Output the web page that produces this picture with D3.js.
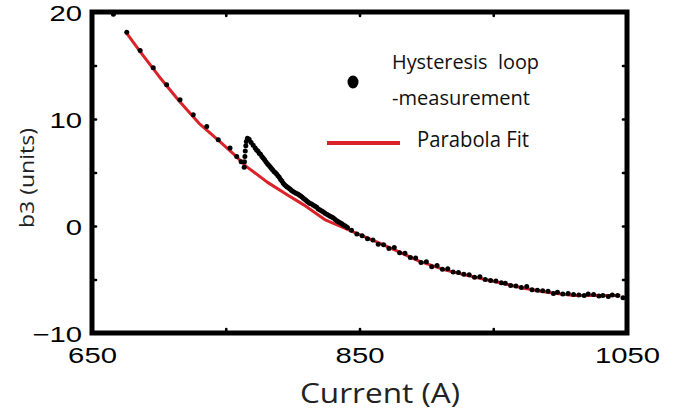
<!DOCTYPE html>
<html>
<head>
<meta charset="utf-8">
<script src="https://cdn.jsdelivr.net/npm/d3@7/dist/d3.min.js"></script>
<style>
  html, body { margin: 0; padding: 0; background: #fff; }
  svg { display: block; }
</style>
</head>
<body>
<svg id="chart" width="683" height="410"></svg>
<script>
// ---------- data ----------
const xTickLabels = [650, 850, 1050];
const yTickLabels = [-10, 0, 10, 20];
const xMinorTicks = [750, 850, 950];
const yMinorTicks = [-5, 0, 5, 10, 15];

// Parabola fit (red line)
const fitCurrent = [676, 686, 700, 715, 730, 745, 757, 765, 781, 795, 808, 824, 835, 850, 865, 880, 895, 915, 935, 955, 972, 990, 1010, 1025, 1045];
const fitB3      = [18.0, 16.3, 14.0, 11.7, 9.6, 7.95, 6.6, 5.6, 4.1, 3.0, 2.0, 0.6, 0.0, -0.8, -1.6, -2.45, -3.3, -4.15, -4.75, -5.3, -5.8, -6.2, -6.5, -6.5, -6.5];

// Hysteresis loop measurement (black dots)
const measCurrent = [
  666, 676, 686, 695.8, 705.8, 715.8, 725.7, 735.8, 744.4, 753.2, 758.2, 761.5,
  763.8, 764.0, 764.3, 764.6, 765.0, 765.4, 766.2, 767.5, 769.0, 770.5, 772.0, 773.0, 774.0,
  775.0, 776.0, 777.0, 778.0, 779.0, 780.0, 781.0, 782.0, 783.0, 784.0, 785.0, 786.0, 787.0, 788.0, 789.0, 790.0, 791.0, 792.0, 793.0, 794.0, 795.0, 796.0, 797.0, 798.0,
  799.0, 800.0, 801.2, 802.5, 803.8, 805.0, 806.0, 807.0, 808.0, 809.0, 810.0, 811.0, 812.0, 813.0, 814.2, 815.5, 816.8, 818.0, 819.2, 820.5, 821.8, 823.0, 824.2, 825.5,
  826.8, 828.0, 829.2, 830.5, 831.8, 833.0, 834.2, 835.5, 836.8, 838.0, 839.5, 841.0,
  844, 848, 852, 856, 860, 864, 868, 872, 876, 880, 884, 888, 892, 896, 900, 904, 908,
  912, 916, 920, 924, 928, 932, 936, 940, 944, 948, 952, 956, 959, 963, 967, 971, 975,
  979, 983, 987, 991, 995, 998, 1002, 1006, 1010, 1014, 1018, 1021, 1025, 1029, 1032,
  1036, 1039, 1043, 1047
];
const measB3 = [
  19.8, 18.1, 16.4, 14.8, 13.2, 11.8, 10.4, 9.3, 8.06, 7.28, 6.5, 6.0,
  5.5, 6.0, 6.5, 7.0, 7.5, 7.9, 8.2, 8.1, 7.8, 7.55, 7.3, 7.1, 7.0,
  6.8, 6.7, 6.5, 6.35, 6.2, 6.0, 5.85, 5.7, 5.55, 5.4, 5.25, 5.1, 5.0, 4.85, 4.7, 4.55, 4.35, 4.2, 4.0, 3.85, 3.75, 3.65, 3.55, 3.45,
  3.35, 3.25, 3.15, 3.05, 3.0, 2.9, 2.8, 2.7, 2.6, 2.5, 2.4, 2.3, 2.2, 2.1, 2.05, 1.95, 1.85, 1.75, 1.6, 1.5, 1.4, 1.3, 1.2, 1.1,
  1.0, 0.9, 0.85, 0.75, 0.6, 0.5, 0.4, 0.3, 0.2, 0.1, 0.0, -0.15,
  -0.4, -0.75, -0.9, -1.2, -1.3, -1.7, -1.75, -2.1, -2.0, -2.5, -2.55, -2.95, -3.0, -3.4, -3.35, -3.8, -3.7,
  -4.05, -4.0, -4.3, -4.35, -4.5, -4.55, -4.8, -4.75, -5.0, -5.1, -5.15, -5.3, -5.35, -5.55, -5.6, -5.75, -5.65,
  -5.95, -6.0, -6.05, -6.1, -6.3, -6.2, -6.35, -6.3, -6.4, -6.45, -6.5, -6.35, -6.4, -6.55, -6.5,
  -6.6, -6.45, -6.5, -6.7
];

const legendMeasLines = ["Hysteresis  loop", "-measurement"];
const legendFitLabel = "Parabola Fit";
const xTitle = "Current (A)";
const yTitle = "b3 (units)";

// ---------- layout ----------
const svg = d3.select("#chart");
const plotL = 92, plotR = 627, plotT = 12, plotB = 333;
const x = d3.scaleLinear().domain([650, 1050]).range([plotL, plotR]);
const y = d3.scaleLinear().domain([-10, 20]).range([plotB, plotT]);
const RED = "#da2229";
const tickFont = "'Liberation Sans', Arial, Helvetica, sans-serif";
const textFont = "'Open Sans', 'Noto Sans', sans-serif";

// fit line
const fitData = fitCurrent.map((c, i) => [c, fitB3[i]]);
svg.append("path")
  .datum(fitData)
  .attr("fill", "none")
  .attr("stroke", RED)
  .attr("stroke-width", 3)
  .attr("stroke-linejoin", "round")
  .attr("d", d3.line().x(d => x(d[0])).y(d => y(d[1])));

// measurement dots
const measData = measCurrent.map((c, i) => [c, measB3[i]]);
svg.append("g").selectAll("circle")
  .data(measData)
  .join("circle")
  .attr("cx", d => x(d[0]))
  .attr("cy", d => y(d[1]))
  .attr("r", 2.5)
  .attr("fill", "#000");

// minor ticks (inside the frame) via d3 axes
function tickAxis(axis, tx, ty) {
  const g = svg.append("g").attr("transform", `translate(${tx},${ty})`).call(axis);
  g.select(".domain").remove();
  g.selectAll("text").remove();
  g.selectAll("line").attr("stroke", "#000").attr("stroke-width", 2.6).attr("stroke-linecap", "round");
}
tickAxis(d3.axisBottom(x).tickValues(xMinorTicks).tickSize(-4), 0, plotB);
tickAxis(d3.axisTop(x).tickValues(xMinorTicks).tickSize(-4), 0, plotT);
tickAxis(d3.axisLeft(y).tickValues(yMinorTicks).tickSize(-4), plotL, 0);
tickAxis(d3.axisRight(y).tickValues(yMinorTicks).tickSize(-4), plotR, 0);

// frame
svg.append("rect")
  .attr("x", plotL).attr("y", plotT)
  .attr("width", plotR - plotL).attr("height", plotB - plotT)
  .attr("fill", "none").attr("stroke", "#000").attr("stroke-width", 5);

// tick labels
const STRETCH = 1.3;
const gx = svg.append("g").attr("transform", `translate(0,${plotB})`)
  .call(d3.axisBottom(x).tickValues(xTickLabels).tickSize(0).tickFormat(d3.format("d")));
gx.select(".domain").remove();
gx.selectAll("text")
  .attr("y", 30).attr("dy", 0)
  .attr("fill", "#000")
  .style("font-family", tickFont).style("font-size", "22.5px");

const gy = svg.append("g").attr("transform", `translate(${plotL},0)`)
  .call(d3.axisLeft(y).tickValues(yTickLabels).tickSize(0).tickFormat(d3.format("d")));
gy.select(".domain").remove();
gy.selectAll("text")
  .attr("x", -10).attr("dy", "0.36em")
  .attr("fill", "#000")
  .style("font-family", tickFont).style("font-size", "22.5px");

svg.selectAll(".tick text").each(function () {
  const w = this.getComputedTextLength();
  d3.select(this).attr("textLength", w * STRETCH).attr("lengthAdjust", "spacingAndGlyphs");
});

// axis titles
svg.append("text")
  .attr("x", 380).attr("y", 403)
  .attr("text-anchor", "middle")
  .style("font-family", textFont).style("font-size", "27px")
  .attr("fill", "#222")
  .attr("textLength", 160).attr("lengthAdjust", "spacingAndGlyphs")
  .text(xTitle);

svg.append("text")
  .attr("transform", "translate(34,178) rotate(-90)")
  .attr("text-anchor", "middle")
  .style("font-family", textFont).style("font-size", "20px")
  .attr("fill", "#222")
  .attr("textLength", 100).attr("lengthAdjust", "spacingAndGlyphs")
  .text(yTitle);

// legend
svg.append("ellipse")
  .attr("cx", 353).attr("cy", 82).attr("rx", 5.5).attr("ry", 6.5)
  .attr("fill", "#000");
const measLens = [147, 138];
const measBase = [69, 105];
legendMeasLines.forEach((t, i) => {
  svg.append("text")
    .attr("x", 392).attr("y", measBase[i])
    .style("font-family", textFont).style("font-size", "20.5px")
    .attr("fill", "#111")
    .attr("textLength", measLens[i]).attr("lengthAdjust", "spacingAndGlyphs")
    .style("white-space", "pre")
    .text(t);
});
svg.append("line")
  .attr("x1", 327).attr("x2", 400).attr("y1", 143).attr("y2", 143)
  .attr("stroke", RED).attr("stroke-width", 4);
svg.append("text")
  .attr("x", 417).attr("y", 147)
  .style("font-family", textFont).style("font-size", "21.5px")
  .attr("fill", "#111")
  .attr("textLength", 112).attr("lengthAdjust", "spacingAndGlyphs")
  .text(legendFitLabel);
</script>
</body>
</html>
